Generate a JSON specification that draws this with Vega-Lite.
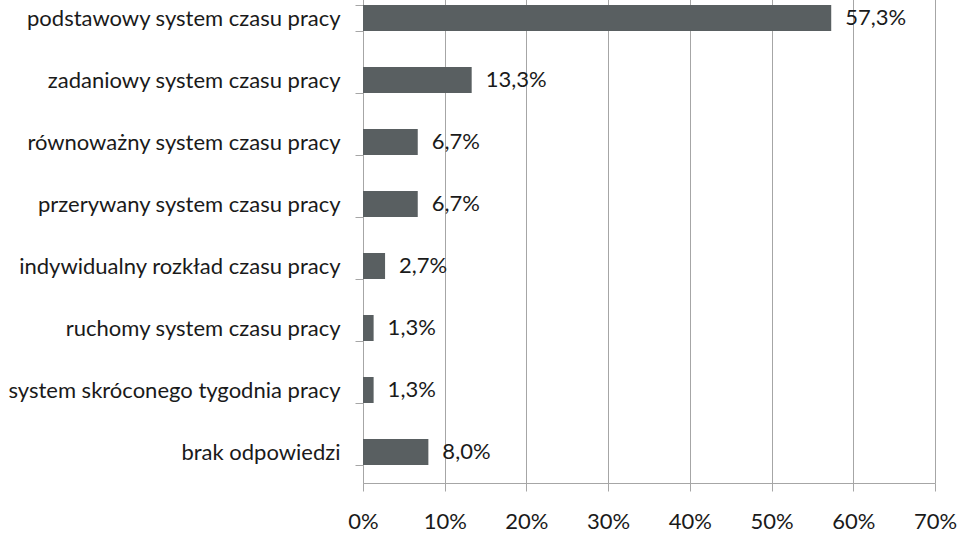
{
  "$schema": "https://vega.github.io/schema/vega-lite/v6.json",
  "width": 572,
  "height": 496,
  "autosize": {"type": "none"},
  "padding": {"left": 363, "top": -13, "right": 29, "bottom": 53},
  "background": "white",
  "config": {
    "locale": {"number": {"decimal": ",", "thousands": " ", "grouping": [3], "currency": ["", " zł"]}},
    "view": {"stroke": null},
    "font": "Lato"
  },
  "data": {
    "values": [
      {"kategoria": "podstawowy system czasu pracy", "udzial": 0.573},
      {"kategoria": "zadaniowy system czasu pracy", "udzial": 0.133},
      {"kategoria": "równoważny system czasu pracy", "udzial": 0.067},
      {"kategoria": "przerywany system czasu pracy", "udzial": 0.067},
      {"kategoria": "indywidualny rozkład czasu pracy", "udzial": 0.027},
      {"kategoria": "ruchomy system czasu pracy", "udzial": 0.013},
      {"kategoria": "system skróconego tygodnia pracy", "udzial": 0.013},
      {"kategoria": "brak odpowiedzi", "udzial": 0.08}
    ]
  },
  "encoding": {
    "y": {
      "field": "kategoria", "type": "nominal", "sort": null,
      "scale": {"paddingInner": 0.58, "paddingOuter": 0.29},
      "axis": {
        "title": null, "domainColor": "#a6a6a6", "tickColor": "#a6a6a6", "tickSize": 8,
        "tickBand": "extent", "labelPadding": 15, "labelFontSize": 22, "labelColor": "#1a1a1a",
        "labelFont": "Lato", "labelLimit": 400, "grid": false
      }
    },
    "x": {
      "field": "udzial", "type": "quantitative",
      "scale": {"domain": [0, 0.7], "nice": false},
      "axis": {
        "title": null, "format": ".0%", "values": [0, 0.1, 0.2, 0.3, 0.4, 0.5, 0.6, 0.7],
        "grid": true, "gridColor": "#a6a6a6", "domainColor": "#a6a6a6", "tickColor": "#a6a6a6",
        "tickSize": 8, "labelPadding": 20, "labelFontSize": 22, "labelColor": "#1a1a1a", "labelFont": "Lato",
        "labelFlush": false
      }
    }
  },
  "layer": [
    {"mark": {"type": "bar", "color": "#595f61"}},
    {
      "mark": {"type": "text", "align": "left", "dx": 14, "fontSize": 22, "color": "#1a1a1a", "font": "Lato"},
      "encoding": {"text": {"field": "udzial", "type": "quantitative", "format": ".1%"}}
    }
  ]
}
